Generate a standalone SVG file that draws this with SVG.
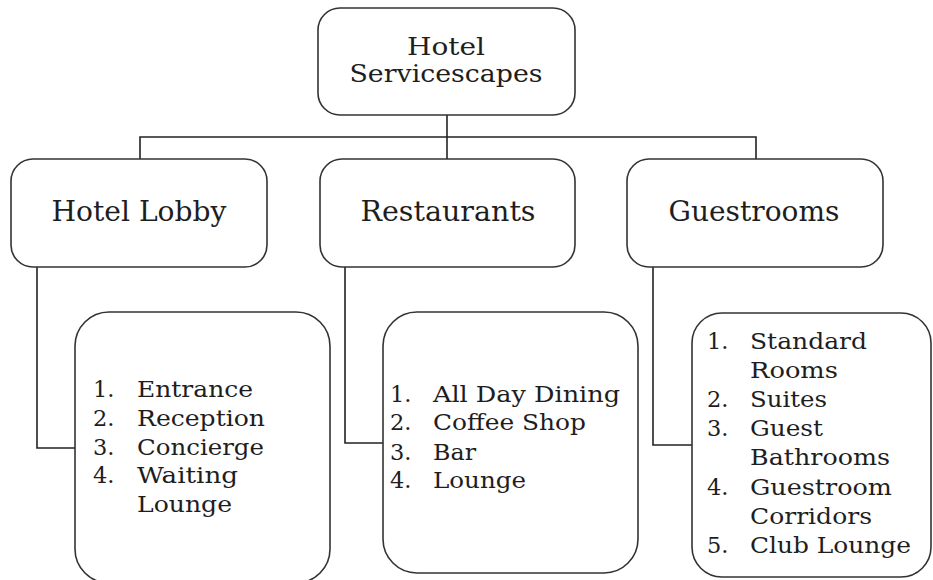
<svg xmlns="http://www.w3.org/2000/svg" width="933" height="580" viewBox="0 0 933 580">
  <style>
    .box { fill: #ffffff; stroke: #333333; stroke-width: 1.6; }
    .link { fill: none; stroke: #222222; stroke-width: 1.6; }
    .title { font-family: "DejaVu Serif", "Liberation Serif", serif; font-size: 27px; fill: #1e1e1e; text-anchor: middle; }
    .root { font-size: 25px; }
    .item { font-family: "DejaVu Serif", "Liberation Serif", serif; font-size: 22.5px; fill: #1e1e1e; }
  </style>
  <rect width="933" height="580" fill="#ffffff"/>

  <!-- connectors -->
  <g id="connectors">
    <path class="link" d="M447 115 V159"/>
    <path class="link" d="M140 159 V137 H756 V159"/>
    <path class="link" d="M37 267 V448 H75"/>
    <path class="link" d="M345 267 V443 H383"/>
    <path class="link" d="M653 267 V445 H692"/>
  </g>

  <!-- root -->
  <g id="hotel-servicescapes">
    <rect class="box" x="318" y="8" width="257" height="107" rx="22"/>
    <text class="title root" x="446" y="55" textLength="78" lengthAdjust="spacingAndGlyphs">Hotel</text>
    <text class="title root" x="446" y="82" textLength="193" lengthAdjust="spacingAndGlyphs">Servicescapes</text>
  </g>

  <!-- second level -->
  <g id="hotel-lobby">
    <rect class="box" x="11" y="159" width="256" height="108" rx="22"/>
    <text class="title" x="139" y="221" textLength="175" lengthAdjust="spacingAndGlyphs">Hotel Lobby</text>
  </g>
  <g id="restaurants">
    <rect class="box" x="320" y="159" width="255" height="108" rx="22"/>
    <text class="title" x="448" y="221" textLength="175" lengthAdjust="spacingAndGlyphs">Restaurants</text>
  </g>
  <g id="guestrooms">
    <rect class="box" x="627" y="159" width="256" height="108" rx="22"/>
    <text class="title" x="754" y="221" textLength="171" lengthAdjust="spacingAndGlyphs">Guestrooms</text>
  </g>

  <!-- lists -->
  <g id="lobby-list">
    <rect class="box" x="75" y="312" width="255" height="271" rx="34"/>
    <text class="item" x="93" y="397">1.</text>
    <text class="item" x="137" y="397" textLength="116" lengthAdjust="spacingAndGlyphs">Entrance</text>
    <text class="item" x="93" y="426">2.</text>
    <text class="item" x="137" y="426" textLength="128" lengthAdjust="spacingAndGlyphs">Reception</text>
    <text class="item" x="93" y="455">3.</text>
    <text class="item" x="137" y="455" textLength="127" lengthAdjust="spacingAndGlyphs">Concierge</text>
    <text class="item" x="93" y="483">4.</text>
    <text class="item" x="137" y="483" textLength="101" lengthAdjust="spacingAndGlyphs">Waiting</text>
    <text class="item" x="137" y="512" textLength="95" lengthAdjust="spacingAndGlyphs">Lounge</text>
  </g>
  <g id="restaurant-list">
    <rect class="box" x="383" y="312" width="255" height="261" rx="34"/>
    <text class="item" x="390" y="402">1.</text>
    <text class="item" x="433" y="402" textLength="187" lengthAdjust="spacingAndGlyphs">All Day Dining</text>
    <text class="item" x="390" y="430">2.</text>
    <text class="item" x="433" y="430" textLength="153" lengthAdjust="spacingAndGlyphs">Coffee Shop</text>
    <text class="item" x="390" y="460">3.</text>
    <text class="item" x="433" y="460" textLength="43" lengthAdjust="spacingAndGlyphs">Bar</text>
    <text class="item" x="390" y="488">4.</text>
    <text class="item" x="433" y="488" textLength="93" lengthAdjust="spacingAndGlyphs">Lounge</text>
  </g>
  <g id="guestroom-list">
    <rect class="box" x="692" y="313" width="239" height="264" rx="30"/>
    <text class="item" x="707" y="349">1.</text>
    <text class="item" x="750" y="349" textLength="117" lengthAdjust="spacingAndGlyphs">Standard</text>
    <text class="item" x="750" y="378" textLength="88" lengthAdjust="spacingAndGlyphs">Rooms</text>
    <text class="item" x="707" y="407">2.</text>
    <text class="item" x="750" y="407" textLength="77" lengthAdjust="spacingAndGlyphs">Suites</text>
    <text class="item" x="707" y="436">3.</text>
    <text class="item" x="750" y="436" textLength="73" lengthAdjust="spacingAndGlyphs">Guest</text>
    <text class="item" x="750" y="465" textLength="140" lengthAdjust="spacingAndGlyphs">Bathrooms</text>
    <text class="item" x="707" y="495">4.</text>
    <text class="item" x="750" y="495" textLength="142" lengthAdjust="spacingAndGlyphs">Guestroom</text>
    <text class="item" x="750" y="524" textLength="122" lengthAdjust="spacingAndGlyphs">Corridors</text>
    <text class="item" x="707" y="553">5.</text>
    <text class="item" x="750" y="553" textLength="161" lengthAdjust="spacingAndGlyphs">Club Lounge</text>
  </g>
</svg>
